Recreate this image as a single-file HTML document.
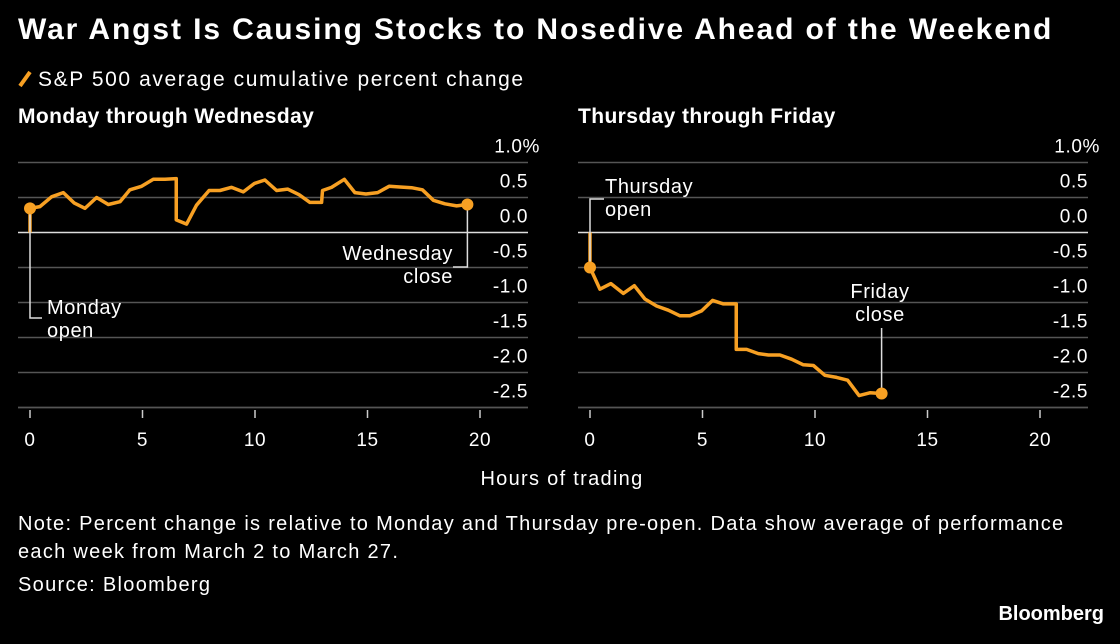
<!DOCTYPE html>
<html><head><meta charset="utf-8"><style>
body{margin:0;background:#000;width:1120px;height:639px;overflow:hidden;font-family:"Liberation Sans",sans-serif;color:#fff}
svg text{font-family:"Liberation Sans",sans-serif}
</style></head><body>
<svg width="1120" height="639">
<text x="18" y="39" font-size="30" font-weight="bold" letter-spacing="1.9" fill="#fff">War Angst Is Causing Stocks to Nosedive Ahead of the Weekend</text>
<line x1="20" y1="86" x2="30" y2="72" stroke="#f7a023" stroke-width="4"/>
<text x="38" y="86" font-size="21" letter-spacing="1.6" fill="#fff">S&amp;P 500 average cumulative percent change</text>
<text x="18" y="123" font-size="21" font-weight="bold" letter-spacing="0.4" fill="#fff">Monday through Wednesday</text>
<text x="578" y="123" font-size="21" font-weight="bold" letter-spacing="0.4" fill="#fff">Thursday through Friday</text>
<g id="left"></g>
<g id="right"></g>
<text x="562" y="485" font-size="20" letter-spacing="1.3" text-anchor="middle" fill="#fff">Hours of trading</text>
<text x="18" y="530" font-size="20" letter-spacing="1.3" fill="#fff">Note: Percent change is relative to Monday and Thursday pre-open. Data show average of performance</text>
<text x="18" y="558" font-size="20" letter-spacing="1.3" fill="#fff">each week from March 2 to March 27.</text>
<text x="18" y="591" font-size="20" letter-spacing="1.3" fill="#fff">Source: Bloomberg</text>
<text x="1104" y="620" font-size="20" font-weight="bold" text-anchor="end" fill="#fff">Bloomberg</text>
</svg>
<script>
const yTicks=[1.0,0.5,0.0,-0.5,-1.0,-1.5,-2.0,-2.5];
const yTickLabels=["1.0%","0.5","0.0","-0.5","-1.0","-1.5","-2.0","-2.5"];
const xTicks=[0,5,10,15,20];
const leftHours=[0,0,0.44,0.96,1.48,1.97,2.44,2.96,3.48,4.0,4.44,4.96,5.48,6.0,6.5,6.5,6.96,7.4,7.96,8.44,8.96,9.48,9.97,10.44,10.96,11.45,11.96,12.44,12.96,13.0,13.4,13.97,14.44,14.93,15.45,15.96,16.44,16.96,17.44,17.93,18.44,18.96,19.44];
const leftValues=[0,0.345,0.37,0.51,0.57,0.42,0.345,0.50,0.40,0.44,0.61,0.66,0.76,0.76,0.77,0.18,0.12,0.39,0.60,0.60,0.645,0.58,0.70,0.75,0.60,0.62,0.54,0.43,0.43,0.60,0.645,0.76,0.57,0.55,0.57,0.66,0.65,0.64,0.61,0.46,0.41,0.38,0.40];
const rightHours=[0,0,0.44,0.93,1.48,1.97,2.44,2.96,3.48,4.0,4.44,4.96,5.45,5.93,6.5,6.5,6.96,7.48,7.93,8.44,8.96,9.48,9.93,10.44,10.96,11.45,11.96,12.44,12.96];
const rightValues=[0,-0.50,-0.81,-0.73,-0.87,-0.76,-0.95,-1.05,-1.11,-1.19,-1.19,-1.12,-0.97,-1.02,-1.02,-1.67,-1.67,-1.73,-1.75,-1.75,-1.81,-1.89,-1.90,-2.04,-2.07,-2.11,-2.33,-2.29,-2.30];
const NS="http://www.w3.org/2000/svg";
function mk(p,t,a){const e=document.createElementNS(NS,t);for(const k in a)e.setAttribute(k,a[k]);p.appendChild(e);return e;}
const yS=v=>232.5-v*70;
function panel(g,x0,gx0,gx1,hours,vals){
  const xS=h=>x0+h*22.5;
  yTicks.forEach((t,i)=>{
    const l=mk(g,'line',{x1:gx0,x2:gx1,y1:yS(t),y2:yS(t),stroke:t===0?'#ddd':'#555','stroke-width':1.5});
    
    
    const tx=mk(g,'text',{x:gx1+(i===0?12:0),y:yS(t)-10,'font-size':19,'letter-spacing':0.6,'text-anchor':'end',fill:'#fff'});
    tx.textContent=yTickLabels[i];
    
    
  });
  mk(g,'line',{x1:gx0,x2:gx1,y1:407.5,y2:407.5,stroke:'#555','stroke-width':1.5});
  xTicks.forEach(t=>{
    const l=mk(g,'line',{x1:xS(t),x2:xS(t),y1:410,y2:418,stroke:'#ccc','stroke-width':1.5});
    
    
    const tx=mk(g,'text',{x:xS(t),y:446,'font-size':19,'letter-spacing':0.6,'text-anchor':'middle',fill:'#fff'});
    tx.textContent=t;
    
    
  });
  const pts=hours.map((h,i)=>xS(h)+','+yS(vals[i])).join(' ');
  const pl=mk(g,'polyline',{points:pts,fill:'none',stroke:'#f7a023','stroke-width':3.5,'stroke-linejoin':'round'});
  
  
  const n=hours.length-1;
  return {xS,first:[xS(hours[1]),yS(vals[1])],last:[xS(hours[n]),yS(vals[n])]};
}
function annot(g,pathd,lines,x,y,anchor,name){
  const p=mk(g,'path',{d:pathd,fill:'none',stroke:'#ddd','stroke-width':1.5});
  
  
  const t=mk(g,'text',{x:x,y:y,'font-size':20,'letter-spacing':0.6,'text-anchor':anchor,fill:'#fff'});
  
  
  lines.forEach((s,i)=>{const ts=mk(t,'tspan',{x:x,dy:i?23:0});ts.textContent=s;});
}
function dot(g,p,name){const c=mk(g,'circle',{cx:p[0],cy:p[1],r:6,fill:'#f7a023'});}
const L=document.getElementById('left'),R=document.getElementById('right');
const a=panel(L,30,18,528,leftHours,leftValues);
const b=panel(R,590,578,1088,rightHours,rightValues);
annot(L,`M${a.first[0]},${a.first[1]} V318 H42`,["Monday","open"],47,314,'start','monday-open');
annot(L,`M${a.last[0]},${a.last[1]} V267 H453`,["Wednesday","close"],453,260,'end','wednesday-close');
annot(R,`M${b.first[0]},${b.first[1]} V199 H604`,["Thursday","open"],605,193,'start','thursday-open');
annot(R,`M${b.last[0]},${b.last[1]} V328`,["Friday","close"],880,298,'middle','friday-close');
dot(L,a.first,'monday-open-dot');dot(L,a.last,'wednesday-close-dot');
dot(R,b.first,'thursday-open-dot');dot(R,b.last,'friday-close-dot');
</script>
</body></html>
